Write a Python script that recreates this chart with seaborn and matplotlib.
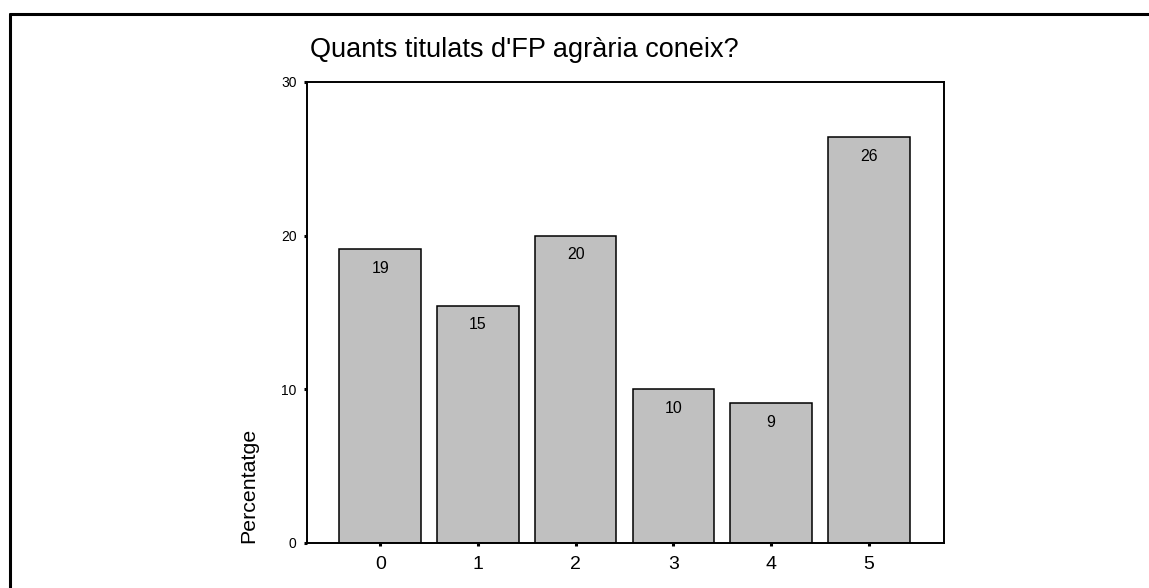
import matplotlib
matplotlib.use("Agg")
import matplotlib.pyplot as plt
import seaborn as sns
import pandas as pd
from matplotlib.lines import Line2D

categories = ["0", "1", "2", "3", "4", "5"]
values = [19.1, 15.45, 20.0, 10.0, 9.1, 26.4]
yticks = [0, 10, 20, 30]
title = "Quants titulats d'FP agrària coneix?"
ylabel = "Percentatge"

sns.set_theme(style="white")
plt.rcParams['font.family'] = ['Liberation Sans', 'DejaVu Sans']

W, H = 1149, 588
fig = plt.figure(figsize=(W / 100, H / 100), dpi=100)
ax = fig.add_axes([307 / W, 1 - 543 / H, (944 - 307) / W, (543 - 82) / H])

df = pd.DataFrame({"cat": categories, "val": values})
sns.barplot(data=df, x="cat", y="val", color="#C0C0C0", saturation=1,
            width=0.835, edgecolor="black", linewidth=1.1, ax=ax)

for cont in ax.containers:
    ax.bar_label(cont, labels=[f"{v:.0f}" for v in values], padding=-19,
                 fontsize=11.4, color="black")

ax.set_xlim(-0.75, 5.77)
ax.set_ylim(0, 30)
ax.set_yticks(yticks)
ax.set_yticklabels([str(t) for t in yticks], fontsize=10)
ax.tick_params(axis="x", bottom=True, labelsize=14, direction="out", length=2.5, width=2.2, pad=7, colors="black")
ax.tick_params(axis="y", left=True, direction="out", length=2.5, width=2.2, pad=5, colors="black")
ax.set_xlabel("")
ax.set_ylabel("")
for sp in ax.spines.values():
    sp.set_visible(True)
    sp.set_color("black")
    sp.set_linewidth(1.4)

fig.text(310 / W, 1 - 57 / H, title, ha="left", va="baseline", fontsize=19.5, color="black")
fig.text(249 / W, 1 - 543 / H, ylabel, rotation=90, ha="center", va="bottom", fontsize=15.4, color="black")

fig.add_artist(Line2D([10 / W, 10 / W], [1 - 14 / H, -0.05], transform=fig.transFigure, color="black", linewidth=2.2))
fig.add_artist(Line2D([10 / W, 1.05], [1 - 14 / H, 1 - 14 / H], transform=fig.transFigure, color="black", linewidth=2.2))

fig.savefig("out.png", dpi=100, facecolor="white")
